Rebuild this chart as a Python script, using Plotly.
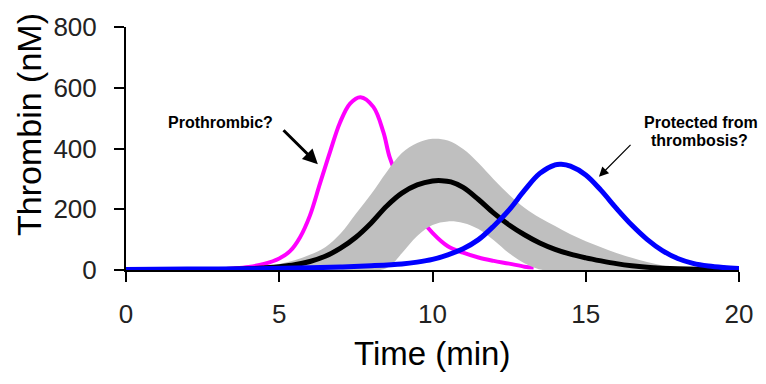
import plotly.graph_objects as go

# ---- data ----
mag_t = [0, 1, 2, 2.5, 3, 3.5, 4, 4.5, 5, 5.35, 5.68, 6.0, 6.33, 6.66, 6.98, 7.31, 7.65, 8.07, 8.4, 8.61, 9.0, 9.5, 10, 10.5, 11, 11.5, 12, 12.5, 13, 13.3]
mag_y = [0, 0, 0.5, 1, 2, 5, 10, 20, 38, 62, 108, 179, 285, 390, 485, 548, 569, 537, 453, 369, 275, 185, 122, 78, 57, 41, 30, 21, 11, 8]

band_t = [0, 4, 4.5, 5, 5.5, 6, 6.5, 7, 7.5, 8, 8.5, 9, 9.5, 10, 10.5, 11, 11.5, 12, 12.5, 13, 13.5, 14, 14.5, 15, 15.5, 16, 16.5, 17, 17.5, 18, 18.5, 19, 20]
band_hi = [0, 3, 10, 20, 32, 50, 75, 120, 185, 250, 322, 385, 418, 432, 426, 398, 352, 298, 248, 205, 172, 145, 118, 95, 75, 56, 40, 26, 15, 8, 3, 0, 0]
low_t = [0, 8.3, 8.6, 9, 9.5, 10, 10.5, 11, 11.5, 12, 12.5, 13, 13.4, 13.6, 20]
low_y = [0, 0, 12, 55, 112, 148, 160, 155, 135, 98, 55, 22, 5, 0, 0]

blk_t = [0, 3, 4, 4.5, 5, 5.5, 6, 6.5, 7, 7.5, 8, 8.5, 9, 9.5, 10, 10.3, 10.6, 11, 11.5, 12, 12.5, 13, 13.5, 14, 14.5, 15, 15.5, 16, 16.5, 17, 17.5, 18, 19, 20]
blk_y = [0, 1, 4, 7, 11, 17, 28, 45, 72, 108, 155, 210, 253, 280, 293, 294, 290, 272, 232, 187, 148, 116, 89, 68, 52, 40, 30, 21, 14, 9, 6, 4, 2, 1]

blu_t = [0, 2, 4, 6, 7, 8, 9, 9.5, 10, 10.5, 11, 11.5, 12, 12.5, 13, 13.5, 14, 14.2, 14.5, 15, 15.5, 16, 16.5, 17, 17.5, 18, 18.5, 19, 19.5, 20]
blu_y = [2, 3, 4, 7, 10, 14, 20, 26, 35, 50, 70, 100, 145, 198, 262, 318, 346, 348, 342, 313, 262, 203, 148, 101, 64, 38, 22, 13, 8, 5]

x_ticks = [0, 5, 10, 15, 20]
y_ticks = [0, 200, 400, 600, 800]

FONT = "Liberation Sans, Arial, sans-serif"
SPL = dict(shape="spline", smoothing=1.0)

fig = go.Figure()
fig.add_trace(go.Scatter(x=mag_t, y=mag_y, mode="lines", line=dict(color="#FF00FF", width=4, **SPL), showlegend=False))
# gray band between lower and upper bounds
fig.add_trace(go.Scatter(x=low_t, y=low_y, mode="lines", line=dict(color="rgba(0,0,0,0)", width=0, **SPL), showlegend=False))
fig.add_trace(go.Scatter(x=band_t, y=band_hi, mode="lines", fill="tonexty", fillcolor="#BFBFBF",
                         line=dict(color="rgba(0,0,0,0)", width=0, **SPL), showlegend=False))
fig.add_trace(go.Scatter(x=blk_t, y=blk_y, mode="lines", line=dict(color="black", width=5, **SPL), showlegend=False))
fig.add_trace(go.Scatter(x=blu_t, y=blu_y, mode="lines", line=dict(color="#0000FF", width=5, **SPL), showlegend=False))

fig.update_layout(
    width=766, height=384,
    margin=dict(l=126, r=27, t=17, b=114),
    paper_bgcolor="white", plot_bgcolor="white",
    font=dict(family=FONT, color="black"),
    xaxis=dict(range=[0, 20], tickvals=x_ticks, showgrid=False, zeroline=False,
               showline=True, linecolor="black", linewidth=2, ticks="outside", ticklen=10, tickwidth=2,
               tickcolor="black", tickfont=dict(size=26, color="#222"), ticklabelstandoff=10),
    yaxis=dict(range=[0, 800], tickvals=y_ticks, showgrid=False, zeroline=False,
               showline=True, linecolor="black", linewidth=2, ticks="outside", ticklen=10, tickwidth=2,
               tickcolor="black", tickfont=dict(size=26, color="#222"), ticklabelstandoff=12),
)

anns = [
    dict(text="Time (min)", xref="paper", yref="paper", x=(432 - 126) / 613, y=-(357 - 270) / 253,
         showarrow=False, font=dict(size=33, color="black"), xanchor="center", yanchor="middle"),
    dict(text="Thrombin (nM)", xref="paper", yref="paper", x=-(126 - 29) / 613, y=(270 - 119) / 253,
         showarrow=False, textangle=-90, font=dict(size=34, color="black"), xanchor="center", yanchor="middle"),
    dict(text="<b>Prothrombic?</b>", x=3.07, y=484, xref="x", yref="y", showarrow=False,
         font=dict(size=16, color="black"), xanchor="center", yanchor="middle"),
    dict(text="", x=6.26, y=348, ax=5.09, ay=465, xref="x", yref="y", axref="x", ayref="y",
         showarrow=True, arrowhead=2, arrowsize=1, arrowwidth=3, arrowcolor="black"),
    dict(text="<b>Protected from</b>", x=18.75, y=484, xref="x", yref="y", showarrow=False,
         font=dict(size=16, color="black"), xanchor="center", yanchor="middle"),
    dict(text="<b>thrombosis?</b>", x=18.72, y=427, xref="x", yref="y", showarrow=False,
         font=dict(size=16, color="black"), xanchor="center", yanchor="middle"),
    dict(text="", x=15.43, y=307, ax=16.51, ay=417, xref="x", yref="y", axref="x", ayref="y",
         showarrow=True, arrowhead=2, arrowsize=1.6, arrowwidth=1.2, arrowcolor="black"),
]
fig.update_layout(annotations=anns)

fig.write_html("out.html")
